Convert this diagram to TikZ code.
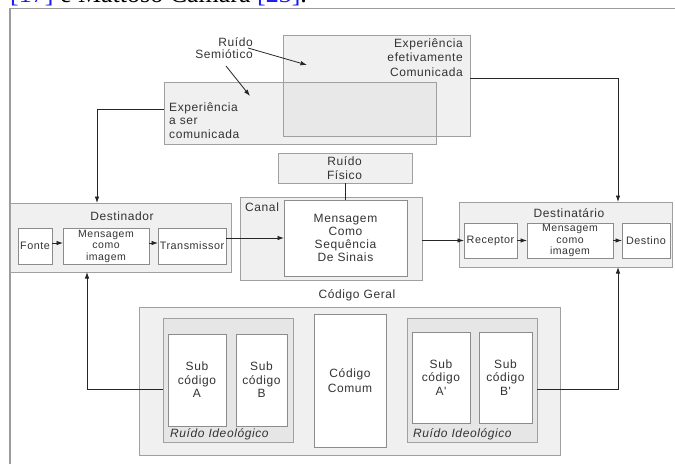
\documentclass[tikz,border=0pt]{standalone}
\usepackage{fontspec}
\setmainfont{Liberation Sans}
\newfontfamily\lsp[LetterSpace=5]{Liberation Sans}
\newfontfamily\refserif{Liberation Serif}
\usetikzlibrary{arrows.meta}

\definecolor{boxfill}{HTML}{F0F0F0}
\definecolor{noisefill}{HTML}{E6E6E6}
\definecolor{overlapfill}{HTML}{E8E8E8}
\definecolor{edgegray}{HTML}{A0A0A0}
\definecolor{inneredge}{HTML}{8C8C8C}
\definecolor{ink}{HTML}{333333}
\definecolor{framegray}{HTML}{9C9C9C}
\definecolor{citeblue}{HTML}{1A1AF0}

\tikzset{
  panel/.style={draw=edgegray, fill=boxfill, line width=0.8pt, inner sep=0pt,
                outer sep=0pt, anchor=north west},
  noisepanel/.style={panel, fill=noisefill},
  cell/.style={draw=inneredge, fill=white, line width=0.8pt, inner sep=0pt,
               outer sep=0pt, anchor=north west, text=ink, align=center,
               font=\lsp\fontsize{12}{13.5}\selectfont},
  smallcell/.style={cell, font=\lsp\fontsize{10.8}{12}\selectfont},
  tinycell/.style={cell, font=\lsp\fontsize{10.5}{11.5}\selectfont},
  txt/.style={text=ink, inner sep=0pt, align=center,
              font=\lsp\fontsize{12}{13.5}\selectfont},
  itxt/.style={txt, font=\lsp\itshape\fontsize{12}{13.5}\selectfont},
  arr/.style={-{Latex[length=6.5pt,width=4.5pt]}, line width=0.8pt, draw=black!85},
  link/.style={line width=0.8pt, draw=black!85}
}

\begin{document}
\begin{tikzpicture}[x=1pt,y=-1pt]
\useasboundingbox (0,0) rectangle (675,464);

% running text of the page, cut at the top edge
\begin{scope}
  \clip (0,0) rectangle (675,464);
  \node[anchor=base west, inner sep=0pt, font=\refserif\fontsize{26}{28}\selectfont]
    (citeline) at (10,2)
    {\textcolor{citeblue}{[17]} e Mattoso Câmara \textcolor{citeblue}{[23]}.};
\end{scope}

% figure frame
\draw[framegray, line width=1.5pt] (10,464) -- (10,8.5) -- (675,8.5);

% experience boxes (overlapping)
\node[panel, minimum width=187pt, minimum height=101pt] (efet) at (283,35) {};
\node[panel, minimum width=272pt, minimum height=62pt] (aser) at (164,82) {};
\fill[overlapfill] (efet.north west |- aser.north) rectangle (aser.east |- efet.south);
\draw[edgegray, line width=0.8pt] (efet.north west) rectangle (efet.south east);
\draw[edgegray, line width=0.8pt] (aser.north west) rectangle (aser.south east);

\node[txt, align=right, anchor=east, font=\lsp\fontsize{12}{14.5}\selectfont]
  (efetlbl) at (463,57.5) {Experiência\\efetivamente\\Comunicada};
\node[txt, align=left, anchor=west] (aserlbl) at (169,120.5)
  {Experiência\\a ser\\comunicada};

% semiotic noise
\node[txt, align=right, anchor=east, font=\lsp\fontsize{12}{12.5}\selectfont]
  (semio) at (253,48) {Ruído\\Semiótico};
\coordinate (semA) at (248,48);
\coordinate (semTipA) at (307,65);
\coordinate (semB) at (226,66);
\coordinate (semTipB) at (250,96);
\draw[arr] (semA) -- (semTipA);
\draw[arr] (semB) -- (semTipB);

% physical noise and channel
\node[panel, minimum width=134pt, minimum height=30pt] (ruidofis) at (278,153) {};
\node[txt] (ruidofislbl) at (344.5,168) {Ruído\\Físico};
\node[panel, minimum width=182pt, minimum height=83pt] (canal) at (240,197) {};
\node[txt, anchor=west] (canallbl) at (245,207) {Canal};
\node[cell, minimum width=123pt, minimum height=76pt, font=\lsp\fontsize{12}{13}\selectfont]
  (msg) at (284,200) {Mensagem\\Como\\Sequência\\De Sinais};
\draw[link] (ruidofis.south -| msg.north) -- (msg.north);

% sender
\node[panel, minimum width=221pt, minimum height=69pt] (destinador) at (10,203) {};
\node[txt] (destinadorlbl) at (122,216) {Destinador};
\node[smallcell, minimum width=34pt, minimum height=36pt] (fonte) at (18,228) {Fonte};
\node[tinycell, minimum width=86pt, minimum height=36pt] (img1) at (63,228)
  {Mensagem\\como\\imagem};
\node[smallcell, minimum width=68pt, minimum height=36pt] (transm) at (158,228) {Transmissor};
\draw[arr] ([yshift=3pt]fonte.east) -- ([yshift=3pt]img1.west);
\draw[arr] ([yshift=3pt]img1.east) -- ([yshift=3pt]transm.west);

% receiver
\node[panel, minimum width=213pt, minimum height=65pt] (destinatario) at (459,202) {};
\node[txt] (destinatariolbl) at (569,213) {Destinatário};
\node[smallcell, minimum width=53pt, minimum height=35pt] (receptor) at (464,223) {Receptor};
\node[tinycell, minimum width=86pt, minimum height=35pt] (img2) at (527,223)
  {Mensagem\\como\\imagem};
\node[smallcell, minimum width=48pt, minimum height=35pt] (destino) at (622,223) {Destino};
\draw[arr] (receptor.east) -- (img2.west);
\draw[arr] (img2.east) -- (destino.west);

% signal path through the channel
\draw[arr] (transm.east |- msg.west) -- (msg.west);
\draw[arr] (canal.east |- receptor.west) -- (receptor.west);

% experiences feeding sender and receiver
\draw[arr] ([yshift=4pt]aser.west) -| ([xshift=-23.5pt]destinador.north);
\draw[arr] ([yshift=7.5pt]efet.east) -| ([xshift=52.5pt]destinatario.north);

% general code
\node[txt] (geralbl) at (357,295) {Código Geral};
\node[panel, minimum width=421pt, minimum height=148pt] (geral) at (139,307) {};

\node[noisepanel, minimum width=130pt, minimum height=124pt] (ideoL) at (163,318) {};
\node[cell, minimum width=58pt, minimum height=92pt] (subA) at (168,334) {Sub\\código\\A};
\node[cell, minimum width=51pt, minimum height=92pt] (subB) at (236,334) {Sub\\código\\B};
\node[itxt, anchor=west] (ideoLlbl) at (170,434) {Ruído Ideológico};

\node[cell, minimum width=72pt, minimum height=133pt, font=\lsp\fontsize{12}{14.5}\selectfont]
  (comum) at (314,314) {Código\\Comum};

\node[noisepanel, minimum width=130pt, minimum height=124pt] (ideoR) at (407,318) {};
\node[cell, minimum width=58pt, minimum height=91pt] (subA2) at (412,332) {Sub\\código\\A'};
\node[cell, minimum width=53pt, minimum height=91pt] (subB2) at (479,332) {Sub\\código\\B'};
\node[itxt, anchor=west] (ideoRlbl) at (413,434) {Ruído Ideológico};

% codes feeding sender and receiver
\draw[arr] ([yshift=-9pt]ideoL.west) -| ([xshift=-33.5pt]destinador.south);
\draw[arr] ([yshift=-9pt]ideoR.east) -| ([xshift=52.5pt]destinatario.south);

\end{tikzpicture}
\end{document}
